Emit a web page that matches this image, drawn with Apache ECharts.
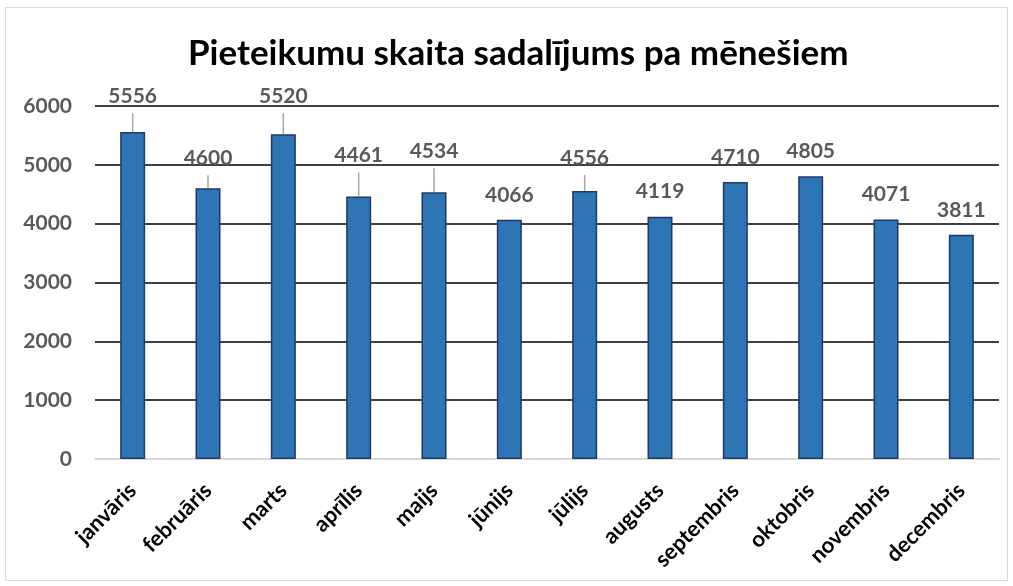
<!DOCTYPE html>
<html><head><meta charset="utf-8">
<script src="https://cdn.jsdelivr.net/npm/echarts@6/dist/echarts.min.js"></script>
<style>
html,body{margin:0;padding:0;background:#fff;}
#frame{position:absolute;left:5px;top:7px;width:1003px;height:574px;border:1px solid #d9d9d9;box-sizing:border-box;}
#c{position:absolute;left:0;top:0;width:1013px;height:586px;}
</style></head>
<body><div id="frame"></div><div id="c"></div>
<script>
const months = ['janvāris','februāris','marts','aprīlis','maijs','jūnijs','jūlijs','augusts','septembris','oktobris','novembris','decembris'];
const counts = [5556,4600,5520,4461,4534,4066,4556,4119,4710,4805,4071,3811];
const yTicks = [0,1000,2000,3000,4000,5000,6000];
// extra upward shift (px) of each value label, as in the reference
const labelLift = [11,5,13,16,16,0,8,0,0,0,0,0];

const chart = echarts.init(document.getElementById('c'), null, {renderer:'canvas'});
const F = 'Lato, "Noto Sans", sans-serif';
chart.setOption({
  animation:false,
  title:{text:'Pieteikumu skaita sadalījums pa mēnešiem',left:183,top:31,
    textStyle:{fontFamily:F,fontSize:35,fontWeight:'bold',color:'#000'}},
  grid:{left:95,right:14,top:106,bottom:127,containLabel:false},
  xAxis:{type:'category',data:months,
    axisLine:{lineStyle:{color:'#d9d9d9',width:2}},axisTick:{show:false},
    axisLabel:{rotate:45,interval:0,margin:28,fontFamily:F,fontSize:22,fontWeight:'bold',color:'#000'}},
  yAxis:{type:'value',min:yTicks[0],max:yTicks[yTicks.length-1],interval:1000,
    axisLine:{show:false},axisTick:{show:false},
    splitLine:{lineStyle:{color:'#000',width:1.5}},
    axisLabel:{margin:23,fontFamily:F,fontSize:21,fontWeight:'bold',color:'#595959',formatter:v=>String(v)}},
  series:[{type:'bar',
    data:counts,
    barWidth:25,
    itemStyle:{color:'#2E75B6',borderColor:'#1F3864',borderWidth:1.5}
  },{
    type:'custom',silent:true,z:3,
    data:counts.map((v,i)=>[i,v]),
    renderItem:function(params,api){
      const i=api.value(0), v=api.value(1), lift=labelLift[i];
      const p=api.coord([i,v]);
      const children=[{type:'text',style:{text:String(v),x:p[0],y:p[1]-25-lift,
        align:'center',verticalAlign:'middle',fill:'#595959',
        fontFamily:'Lato',fontSize:21,fontWeight:'bold'}}];
      if(lift) children.push({type:'line',shape:{x1:p[0],y1:p[1],x2:p[0],y2:p[1]-8-lift},
        style:{stroke:'#a6a6a6',lineWidth:1.5}});
      return {type:'group',children:children};
    }
  }]
});
</script></body></html>
